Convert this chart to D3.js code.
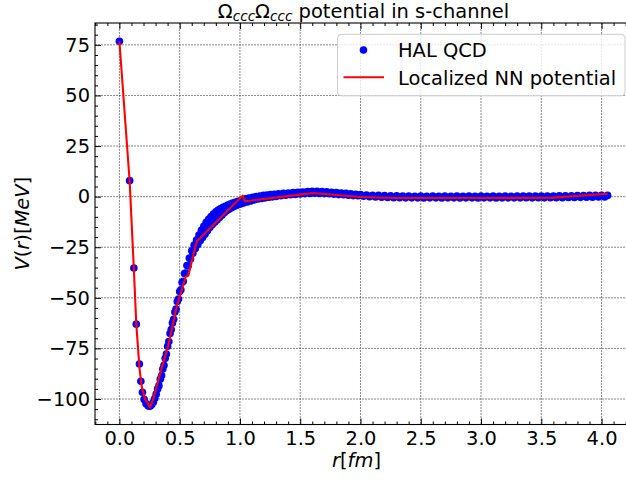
<!DOCTYPE html>
<html><head><meta charset="utf-8">
<script src="https://cdn.jsdelivr.net/npm/d3@7"></script>
<style>body{margin:0;background:#fff;overflow:hidden} svg{display:block} text{font-family:"DejaVu Sans",sans-serif}</style>
</head><body><svg id="c" width="626" height="480"></svg>
<script>
// HAL QCD data (r in fm, V in MeV), written row by row (r row / V row pairs)
const halR = [
 0.000,0.085,0.120,0.140,0.166,0.178,0.191,0.205,0.221,0.239,0.254,0.268,
 0.281,0.293,0.305,0.317,0.328,0.339,0.350,
 0.360,0.370,0.380,0.390,0.400,0.410,0.420,0.430,0.440,0.450,
 0.460,0.470,0.480,0.490,0.500,0.510,0.520,0.530,0.540,0.550,
 0.560,0.570,0.580,0.590,0.600,0.610,0.620,0.630,0.640,0.650,
 0.660,0.670,0.680,0.690,0.700,0.710,0.720,0.730,0.740,0.750,
 0.760,0.770,0.780,0.790,0.800,0.810,0.820,0.830,0.840,0.850,
 0.860,0.870,0.880,0.890,0.900,0.910,0.920,0.930,0.940,0.950,
 0.960,0.970,0.980,0.990,1.000,1.010,1.020,1.030,
 1.045,1.060,1.075,1.090,1.105,1.120,1.135,1.150,1.165,
 1.180,1.195,1.210,1.225,1.240,1.255,1.270,1.285,1.300,
 1.320,1.340,1.360,1.380,1.400,1.420,1.440,1.460,1.480,1.500,
 1.520,1.540,1.560,1.580,1.600,1.620,1.640,1.660,1.680,1.700,
 1.720,1.740,1.760,1.780,1.800,1.820,1.840,1.860,1.880,1.900,
 1.920,1.940,1.960,1.980,
 2.000,2.025,2.050,2.075,2.100,2.125,2.150,2.175,
 2.200,2.225,2.250,2.275,2.300,2.325,2.350,2.375,
 2.400,2.425,2.450,2.475,2.500,2.525,2.550,2.575,
 2.600,2.625,2.650,2.675,2.700,2.725,2.750,2.775,
 2.800,2.825,2.850,2.875,2.900,2.925,2.950,2.975,
 3.000,3.025,3.050,3.075,3.100,3.125,3.150,3.175,
 3.200,3.225,3.250,3.275,3.300,3.325,3.350,3.375,
 3.400,3.425,3.450,3.475,3.500,3.525,3.550,3.575,
 3.600,3.625,3.650,3.675,3.700,3.725,3.750,3.775,
 3.800,3.825,3.850,3.875,3.900,3.925,3.950,3.975,
 4.000,4.025,4.050];
const halV = [
 76.8,7.9,-35.3,-63.0,-82.7,-91.2,-96.7,-100.2,-102.3,-103.4,-103.6,-102.9,
 -101.6,-99.8,-97.6,-95.0,-93.4,-90.2,-88.4,
 -85.2,-83.3,-79.9,-77.8,-73.9,-71.6,-67.6,-65.7,-62.4,-60.6,
 -57.0,-55.6,-51.8,-50.6,-46.9,-46.0,-42.3,-41.8,-38.0,-37.8,
 -34.0,-34.2,-30.3,-30.8,-26.8,-27.9,-23.9,-25.6,-21.4,-23.6,
 -19.0,-21.8,-16.6,-20.2,-14.6,-18.6,-12.7,-16.9,-11.2,-15.3,
 -9.8,-13.9,-8.6,-12.6,-7.5,-11.5,-6.6,-10.3,-5.9,-9.2,
 -5.3,-8.0,-4.8,-7.0,-4.2,-6.2,-3.7,-5.5,-3.2,-4.9,
 -2.8,-4.4,-2.4,-3.9,-2.0,-3.5,-1.6,-3.1,
 -1.1,-2.6,-0.7,-2.1,-0.3,-1.6,0.0,-1.2,0.3,
 -0.9,0.6,-0.6,0.8,-0.3,1.0,-0.1,1.2,0.1,
 1.4,0.4,1.6,0.7,1.8,0.9,2.0,1.1,2.2,1.3,
 2.3,1.5,2.5,1.6,2.6,1.7,2.6,1.6,2.5,1.5,
 2.4,1.4,2.2,1.2,2.0,1.0,1.8,0.9,1.6,0.7,
 1.4,0.5,1.2,0.4,
 1.0,0.2,0.8,0.0,0.7,-0.2,0.6,-0.3,
 0.5,-0.4,0.4,-0.5,0.4,-0.5,0.3,-0.6,
 0.3,-0.6,0.2,-0.6,0.3,-0.7,0.2,-0.6,
 0.3,-0.6,0.2,-0.7,0.3,-0.6,0.2,-0.6,
 0.3,-0.7,0.2,-0.6,0.3,-0.6,0.2,-0.7,
 0.3,-0.6,0.2,-0.6,0.3,-0.7,0.2,-0.6,
 0.3,-0.6,0.2,-0.6,0.3,-0.6,0.3,-0.5,
 0.3,-0.6,0.3,-0.5,0.3,-0.6,0.3,-0.5,
 0.3,-0.55,0.35,-0.5,0.4,-0.45,0.45,-0.4,
 0.5,-0.35,0.55,-0.3,0.6,-0.25,0.65,-0.2,
 0.7,-0.15,0.6];
// Localized NN potential
const nnR = [0.000,0.085,0.120,0.140,0.166,0.185,0.212,0.254,0.281,0.337,0.406,0.475,0.550,0.572,0.641,1.023,1.042,1.499,1.609,1.997,2.300,3.000,3.600,4.050];
const nnV = [76.8,7.6,-36.0,-63.0,-84.4,-94.0,-99.9,-104.0,-100.0,-87.5,-73.4,-54.4,-39.6,-39.0,-22.2,0.5,-2.3,1.0,1.8,-0.15,-0.7,-0.7,-0.5,1.4];
// ticks
const xTicks = [0,0.5,1.0,1.5,2.0,2.5,3.0,3.5,4.0];
const xTickLabels = ["0.0","0.5","1.0","1.5","2.0","2.5","3.0","3.5","4.0"];
const yTicks = [-100,-75,-50,-25,0,25,50,75];
const yTickLabels = ["\u2212100","\u221275","\u221250","\u221225","0","25","50","75"];

const W=626,H=480, L=95,R=632,T=23,B=424.5;
const FS=19.44;
const x=d3.scaleLinear().domain([-0.2025,4.2525]).range([L,R]);
const y=d3.scaleLinear().domain([-112.6,85.8]).range([B,T]);
const svg=d3.select("#c");
svg.append("rect").attr("width",W).attr("height",H).attr("fill","#fff");
svg.append("defs").append("clipPath").attr("id","clip").append("rect")
  .attr("x",L).attr("y",T).attr("width",R-L).attr("height",B-T);

// grid
const grid=svg.append("g").attr("stroke","#555").attr("stroke-width",0.7).attr("stroke-dasharray","2,1");
grid.selectAll("line.gx").data(xTicks).join("line").attr("class","gx")
  .attr("x1",d=>x(d)).attr("x2",d=>x(d)).attr("y1",T).attr("y2",B);
grid.selectAll("line.gy").data(yTicks).join("line").attr("class","gy")
  .attr("y1",d=>y(d)).attr("y2",d=>y(d)).attr("x1",L).attr("x2",R);

// data
const n=Math.min(halR.length,halV.length);
const plot=svg.append("g").attr("clip-path","url(#clip)");
plot.selectAll("circle").data(d3.range(n)).join("circle")
  .attr("cx",i=>x(halR[i])).attr("cy",i=>y(halV[i])).attr("r",3.8).attr("fill","#0000ff");
const line=d3.line().x(i=>x(nnR[i])).y(i=>y(nnV[i]));
plot.append("path").datum(d3.range(nnR.length)).attr("d",line).attr("fill","none")
  .attr("stroke","#ff0000").attr("stroke-width",2.1).attr("stroke-linejoin","round");

// axes
function styleAxis(g){
  g.select(".domain").remove();
  g.selectAll(".tick line").attr("stroke","#000").attr("stroke-width",1);
  g.attr("font-family","DejaVu Sans").attr("font-size",FS);
  g.selectAll(".tick text").attr("fill","#000");
}
const xMinor=d3.range(-2,43).map(k=>k/10).filter(v=>Math.abs(v*2-Math.round(v*2))>1e-6);
const yMinor=d3.range(-22,18).map(k=>k*5).filter(v=>v%25!==0);
svg.append("g").attr("transform",`translate(0,${B})`)
  .call(d3.axisBottom(x).tickValues(xTicks).tickFormat((d,i)=>xTickLabels[i]).tickSize(-6).tickPadding(7)).call(styleAxis);
svg.append("g").attr("transform",`translate(0,${B})`)
  .call(d3.axisBottom(x).tickValues(xMinor).tickFormat("").tickSize(-3)).call(styleAxis);
svg.append("g").attr("transform",`translate(0,${T})`)
  .call(d3.axisTop(x).tickValues(xTicks).tickFormat("").tickSize(-6)).call(styleAxis);
svg.append("g").attr("transform",`translate(0,${T})`)
  .call(d3.axisTop(x).tickValues(xMinor).tickFormat("").tickSize(-3)).call(styleAxis);
svg.append("g").attr("transform",`translate(${L},0)`)
  .call(d3.axisLeft(y).tickValues(yTicks).tickFormat((d,i)=>yTickLabels[i]).tickSize(-6).tickPadding(5)).call(styleAxis);
svg.append("g").attr("transform",`translate(${L},0)`)
  .call(d3.axisLeft(y).tickValues(yMinor).tickFormat("").tickSize(-3)).call(styleAxis);
svg.append("g").attr("transform",`translate(${R},0)`)
  .call(d3.axisRight(y).tickValues(yTicks).tickFormat("").tickSize(-6)).call(styleAxis);
svg.append("g").attr("transform",`translate(${R},0)`)
  .call(d3.axisRight(y).tickValues(yMinor).tickFormat("").tickSize(-3)).call(styleAxis);

// frame
svg.append("rect").attr("x",L).attr("y",T).attr("width",R-L).attr("height",B-T)
  .attr("fill","none").attr("stroke","#000").attr("stroke-width",1.1);

// title
const title=svg.append("text").attr("x",(L+R)/2).attr("y",18.3).attr("text-anchor","middle").attr("font-size",FS).attr("fill","#000");
title.append("tspan").text("\u03A9");
title.append("tspan").attr("font-style","italic").attr("font-size",FS*0.7).attr("dy",2.5).text("ccc");
title.append("tspan").attr("dy",-2.5).text("\u03A9");
title.append("tspan").attr("font-style","italic").attr("font-size",FS*0.7).attr("dy",2.5).text("ccc");
title.append("tspan").attr("dy",-2.5).text(" potential in s-channel");

// x label
const xl=svg.append("text").attr("x",(L+R)/2 - 7).attr("y",466.5).attr("text-anchor","middle").attr("font-size",FS).attr("fill","#000");
xl.append("tspan").attr("font-style","italic").text("r");
xl.append("tspan").text("[");
xl.append("tspan").attr("font-style","italic").text("fm");
xl.append("tspan").text("]");

// y label
const yl=svg.append("text").attr("transform",`translate(29,${(T+B)/2}) rotate(-90)`).attr("text-anchor","middle").attr("font-size",FS).attr("fill","#000");
yl.append("tspan").attr("font-style","italic").text("V");
yl.append("tspan").text("(");
yl.append("tspan").attr("font-style","italic").text("r");
yl.append("tspan").text(")[");
yl.append("tspan").attr("font-style","italic").text("MeV");
yl.append("tspan").text("]");

// legend
const lg=svg.append("g");
lg.append("rect").attr("x",337.5).attr("y",34.3).attr("width",287.5).attr("height",61.5).attr("rx",4)
  .attr("fill","#fff").attr("fill-opacity",0.8).attr("stroke","#cccccc").attr("stroke-width",1);
lg.append("circle").attr("cx",363.5).attr("cy",50).attr("r",3.8).attr("fill","#0000ff");
lg.append("line").attr("x1",343.5).attr("x2",384).attr("y1",77.3).attr("y2",77.3).attr("stroke","#ff0000").attr("stroke-width",2.1);
lg.append("text").attr("x",398).attr("y",56.7).attr("font-size",FS).attr("fill","#000").text("HAL QCD");
lg.append("text").attr("x",398).attr("y",85).attr("font-size",FS).attr("fill","#000").text("Localized NN potential");
</script></body></html>
